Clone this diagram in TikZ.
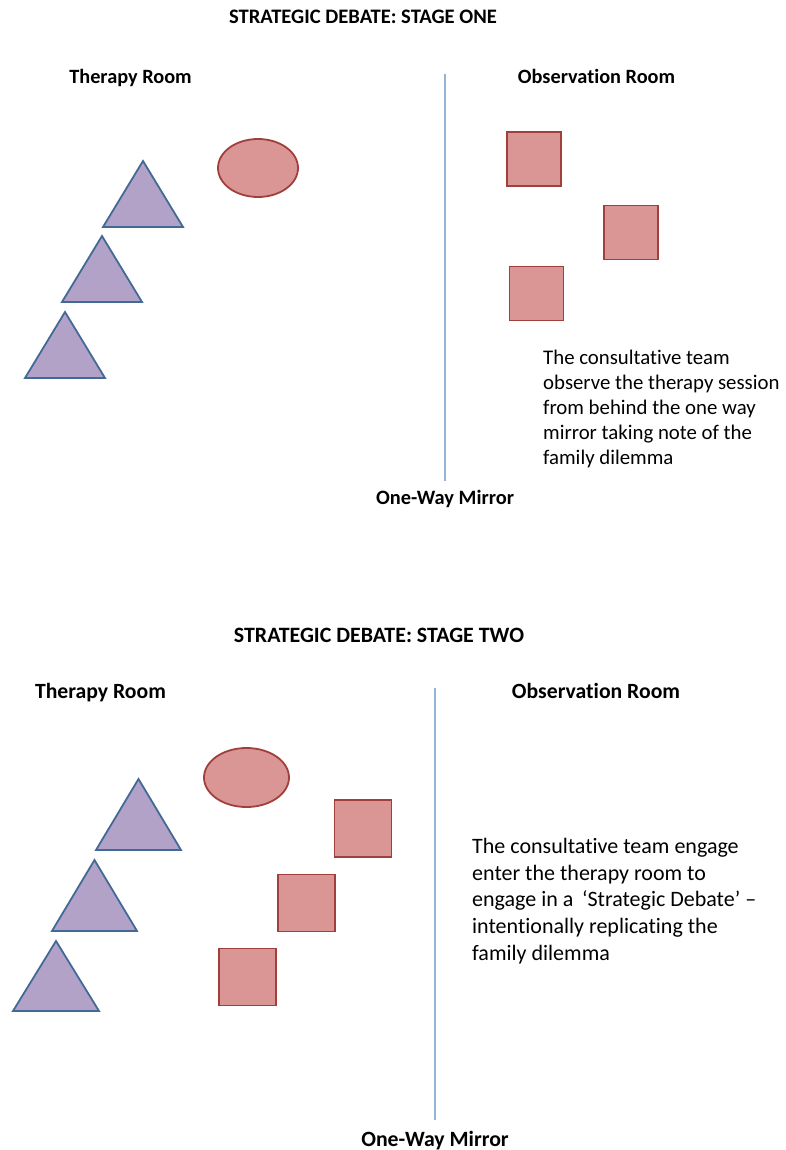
\documentclass[tikz,border=0pt]{standalone}
\usepackage{fontspec}
\setmainfont{Carlito}[Ligatures=NoCommon]
\usepackage{xcolor}
\usepackage{tikz}
\usetikzlibrary{shapes.geometric}
\definecolor{famfill}{HTML}{B3A2C7}
\definecolor{famline}{HTML}{436A96}
\definecolor{teamfill}{HTML}{D99694}
\definecolor{teamline}{HTML}{A13F3D}
\definecolor{mirrorblue}{HTML}{95B3D7}
\tikzset{
  titlelabel/.style={inner sep=0pt, anchor=base, font=\bfseries},
  roomlabel/.style={inner sep=0pt, anchor=base, font=\bfseries},
  notetext/.style={inner sep=0pt, anchor=north west, align=left},
  familytri/.style={draw=famline, fill=famfill, line width=1.8pt, line join=miter},
  therapistoval/.style={draw=teamline, fill=teamfill, ellipse, line width=1.8pt, inner sep=0pt},
  teambox/.style={draw=teamline, fill=teamfill, rectangle, line width=1.8pt, inner sep=0pt},
  mirrorline/.style={draw=mirrorblue, line width=1.4pt}
}
% apex x, apex y, half base, height
\newcommand{\famtri}[4]{\draw[familytri] (#1,#2) -- ++(#3,#4) -- ++(-2*#3,0) -- cycle;}

\begin{document}
\begin{tikzpicture}[x=1pt, y=-1pt]
\useasboundingbox[fill=white] (0,0) rectangle (786,1150);

% stage one
\node[titlelabel, font=\bfseries\fontsize{20.6}{24}\selectfont] (titleone) at (363,24) {STRATEGIC DEBATE: STAGE ONE};
\node[roomlabel, font=\bfseries\fontsize{20.3}{24}\selectfont] (therapyone) at (130.5,84) {Therapy Room};
\node[roomlabel, font=\bfseries\fontsize{20.3}{24}\selectfont] (observeone) at (596.5,84) {Observation Room};
\coordinate (mirrortopone) at (445,74);
\coordinate (mirrorbotone) at (445,481);
\draw[mirrorline] (mirrortopone) -- (mirrorbotone);
\node[roomlabel, font=\bfseries\fontsize{20.4}{24}\selectfont] (mirrorone) at (445,504) {One-Way Mirror};

\node[therapistoval, minimum width=80pt, minimum height=58pt] (ovalone) at (258,168) {};
\famtri{143}{161}{40}{66}
\famtri{102}{236}{40}{66}
\famtri{65}{312}{40}{66}

\node[teambox, minimum size=54pt] (teamAone) at (534,159) {};
\node[teambox, minimum size=54pt] (teamBone) at (631,232.5) {};
\node[teambox, minimum size=54pt] (teamCone) at (536.5,293.5) {};

\node[notetext, font=\fontsize{20.8}{25}\selectfont] (noteone) at (543,350) {The consultative team\\observe the therapy session\\from behind the one way\\mirror taking note of the\\family dilemma};

% stage two
\node[titlelabel, font=\bfseries\fontsize{21.9}{26}\selectfont] (titletwo) at (379,642) {STRATEGIC DEBATE: STAGE TWO};
\node[roomlabel, font=\bfseries\fontsize{21.7}{26}\selectfont] (therapytwo) at (100.5,698) {Therapy Room};
\node[roomlabel, font=\bfseries\fontsize{21.7}{26}\selectfont] (observetwo) at (596,698) {Observation Room};
\coordinate (mirrortoptwo) at (435,688);
\coordinate (mirrorbottwo) at (435,1120);
\draw[mirrorline] (mirrortoptwo) -- (mirrorbottwo);
\node[roomlabel, font=\bfseries\fontsize{21.8}{26}\selectfont] (mirrortwo) at (435,1146) {One-Way Mirror};

\node[therapistoval, minimum width=85pt, minimum height=59pt] (ovaltwo) at (246.5,777.5) {};
\famtri{138.5}{779}{42.5}{71}
\famtri{94.5}{860}{42.5}{71}
\famtri{56}{941}{43}{70}

\node[teambox, minimum size=57pt] (teamAtwo) at (363,828.5) {};
\node[teambox, minimum size=57pt] (teamBtwo) at (306.5,903) {};
\node[teambox, minimum size=57pt] (teamCtwo) at (247.5,977) {};

\node[notetext, font=\fontsize{22}{26.7}\selectfont] (notetwo) at (472,838) {The consultative team engage\\enter the therapy room to\\engage in a \,‘Strategic Debate’ --\\intentionally replicating the\\family dilemma};
\end{tikzpicture}
\end{document}
